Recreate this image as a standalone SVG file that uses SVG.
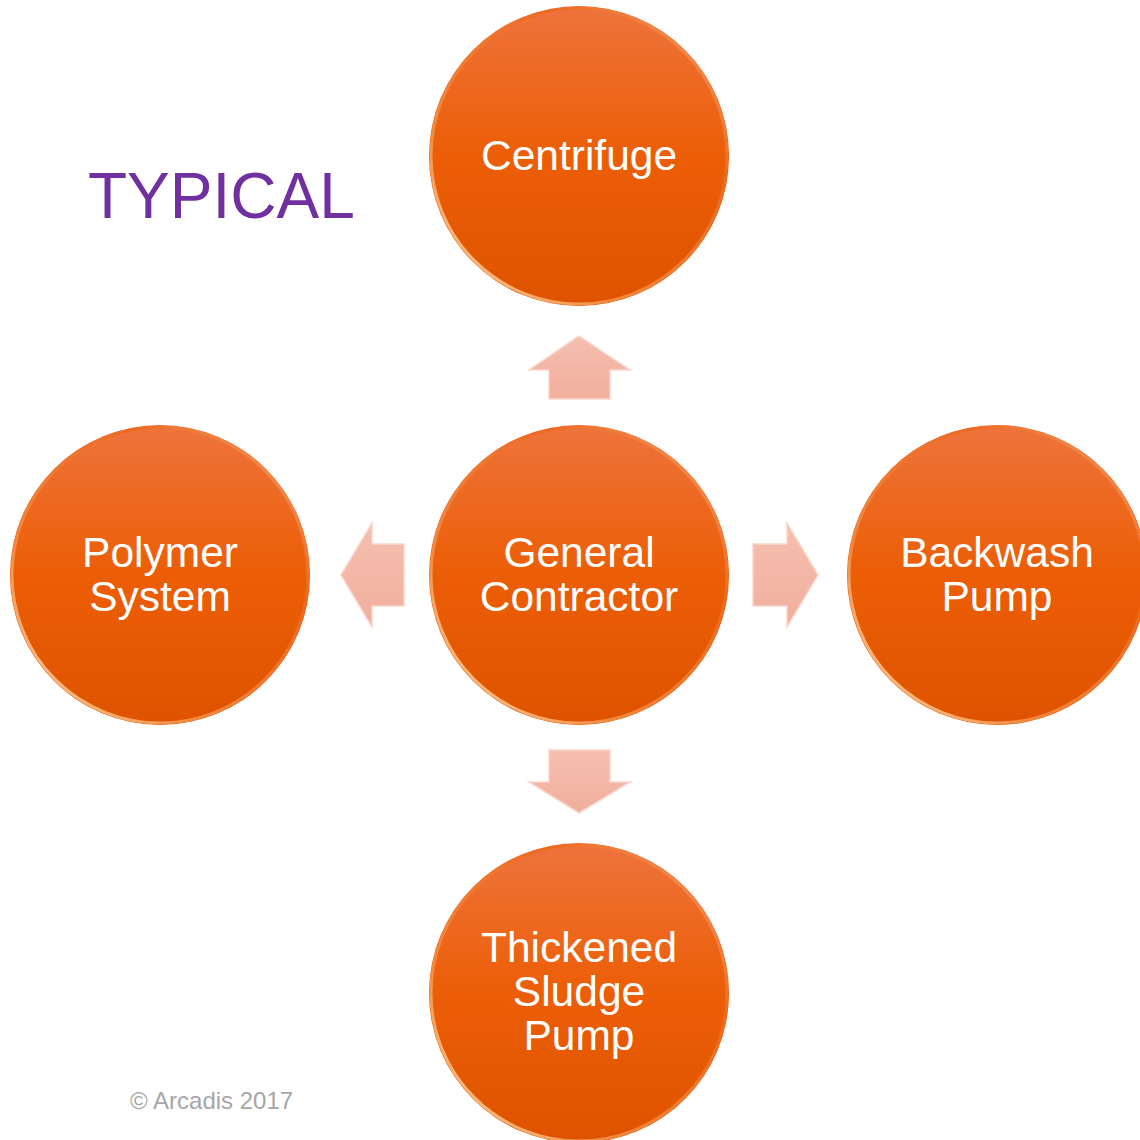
<svg xmlns="http://www.w3.org/2000/svg" width="1140" height="1140" viewBox="0 0 1140 1140">
<defs>
<linearGradient id="fill" x1="0" y1="0" x2="0" y2="1">
<stop offset="0" stop-color="#EE733C"/>
<stop offset="0.5" stop-color="#EC5E06"/>
<stop offset="1" stop-color="#DF5300"/>
</linearGradient>
<linearGradient id="rim" x1="0" y1="1" x2="1" y2="0">
<stop offset="0" stop-color="#FFE0B0"/>
<stop offset="0.3" stop-color="#F28A40"/>
<stop offset="0.7" stop-color="#EB6A20"/>
<stop offset="1" stop-color="#F6A070"/>
</linearGradient>
<linearGradient id="arr" x1="0" y1="0" x2="0" y2="1">
<stop offset="0" stop-color="#F5BFB0"/>
<stop offset="1" stop-color="#F1AE9C"/>
</linearGradient>
<g id="circ">
<circle r="150" fill="url(#fill)"/>
<circle r="148" fill="none" stroke="url(#rim)" stroke-width="3"/>
</g>
</defs>
<style>
.lbl{font-family:"Liberation Sans",Arial,sans-serif;font-size:42.5px;fill:#FFFFFF;text-anchor:middle}
.arrow{fill:url(#arr);stroke:#F8D6CC;stroke-width:1.5}
</style>
<rect width="1140" height="1140" fill="#FFFFFF"/>
<text x="88" y="218" font-family="Liberation Sans, Arial, sans-serif" font-size="64" fill="#7030A0">TYPICAL</text>
<text x="130" y="1109" font-family="Liberation Sans, Arial, sans-serif" font-size="24" fill="#A6A6A6">© Arcadis 2017</text>
<g id="connectors">
<polygon class="arrow" points="579,336 630,370 610,370 610,399 549,399 549,370 529,370"/>
<polygon class="arrow" points="341,575 372,523 372,544 404,544 404,606 372,606 372,627"/>
<polygon class="arrow" points="818,575 787,523 787,544 753,544 753,606 787,606 787,627"/>
<polygon class="arrow" points="579,813 630,782 610,782 610,750 549,750 549,782 529,782"/>
</g>
<g id="centrifuge"><use href="#circ" x="579" y="156"/><text class="lbl" x="579" y="170">Centrifuge</text></g>
<g id="general-contractor"><use href="#circ" x="579" y="575"/><text class="lbl" x="579" y="567">General</text><text class="lbl" x="579" y="611">Contractor</text></g>
<g id="polymer-system"><use href="#circ" x="160" y="575"/><text class="lbl" x="160" y="567">Polymer</text><text class="lbl" x="160" y="611">System</text></g>
<g id="backwash-pump"><use href="#circ" x="997" y="575"/><text class="lbl" x="997" y="567">Backwash</text><text class="lbl" x="997" y="611">Pump</text></g>
<g id="thickened-sludge-pump"><use href="#circ" x="579" y="993"/><text class="lbl" x="579" y="962">Thickened</text><text class="lbl" x="579" y="1006">Sludge</text><text class="lbl" x="579" y="1050">Pump</text></g>
</svg>
